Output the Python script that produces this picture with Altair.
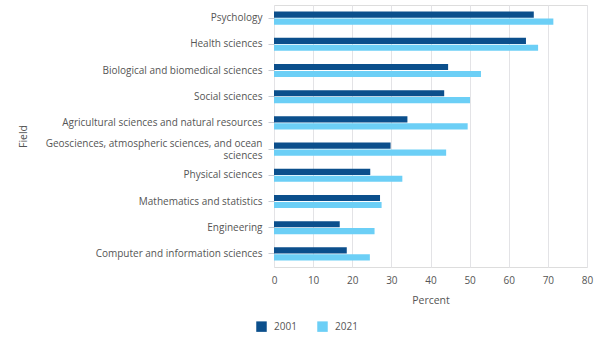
import altair as alt
import pandas as pd

fields = [
    "Psychology",
    "Health sciences",
    "Biological and biomedical sciences",
    "Social sciences",
    "Agricultural sciences and natural resources",
    "Geosciences, atmospheric sciences, and ocean sciences",
    "Physical sciences",
    "Mathematics and statistics",
    "Engineering",
    "Computer and information sciences",
]
values_2001 = [66.4, 64.4, 44.5, 43.5, 34.1, 29.8, 24.6, 27.1, 16.8, 18.6]
values_2021 = [71.4, 67.5, 52.9, 50.1, 49.5, 44.0, 32.8, 27.5, 25.7, 24.5]
years = ["2001", "2021"]
x_ticks = [0, 10, 20, 30, 40, 50, 60, 70, 80]

rows = []
for f, a, b in zip(fields, values_2001, values_2021):
    rows.append({"Field": f, "Year": years[0], "Percent": a})
    rows.append({"Field": f, "Year": years[1], "Percent": b})
df = pd.DataFrame(rows)

FONT = "Open Sans"
TXT = "#555555"
FS = 10

GEO = "Geosciences, atmospheric sciences, and ocean sciences"
label_expr = (
    f"datum.value == '{GEO}' ? "
    "['Geosciences, atmospheric sciences, and ocean', 'sciences'] : datum.value"
)

chart = (
    alt.Chart(df)
    .mark_bar()
    .encode(
        x=alt.X(
            "Percent:Q",
            scale=alt.Scale(domain=[0, 80]),
            axis=alt.Axis(
                title="Percent",
                values=x_ticks,
                domain=False,
                ticks=False,
                grid=True,
                gridColor="#e3e3e6",
                labelPadding=8,
                labelFlush=False,
                titlePadding=10,
                labelFont=FONT,
                titleFont=FONT,
                labelFontSize=FS,
                titleFontSize=FS + 0.5,
                labelColor=TXT,
                titleColor=TXT,
                titleFontWeight="normal",
            ),
        ),
        y=alt.Y(
            "Field:N",
            sort=fields,
            scale=alt.Scale(paddingInner=0.5, paddingOuter=0.25),
            axis=alt.Axis(
                title="Field",
                domain=False,
                ticks=True,
                tickColor="#c8ccd4",
                tickSize=6,
                labelPadding=6,
                labelExpr=label_expr,
                labelLimit=400,
                labelLineHeight=12,
                labelOffset={
                    "condition": {"test": f"datum.value == '{GEO}'", "value": -5},
                    "value": 0,
                },
                labelFont=FONT,
                titleFont=FONT,
                labelFontSize=FS,
                titleFontSize=FS + 0.5,
                labelColor=TXT,
                titleColor=TXT,
                titleX=-246,
                titleY=131,
                titleAngle=-90,
                titleFontWeight="normal",
            ),
        ),
        yOffset=alt.YOffset(
            "Year:N", sort=years, scale=alt.Scale(paddingInner=0.12)
        ),
        color=alt.Color(
            "Year:N",
            sort=years,
            scale=alt.Scale(domain=years, range=["#0b4f8c", "#6ccff6"]),
            legend=alt.Legend(
                title=None,
                orient="none",
                direction="horizontal",
                legendX=-18,
                legendY=316,
                symbolType="square",
                symbolSize=110,
                symbolStrokeWidth=0,
                columnPadding=20,
                labelOffset=7,
                labelFontSize=FS,
                labelColor=TXT,
                labelFont=FONT,
            ),
        ),
    )
    .properties(
        width=313,
        height=262,
        autosize=alt.AutoSizeParams(type="none"),
        padding={"left": 274, "top": 5, "right": 12, "bottom": 74},
    )
    .configure_view(stroke=None)
    .configure(background="white", font=FONT)
)

chart.save("out.html", embed_options={"renderer": "svg", "actions": False})
